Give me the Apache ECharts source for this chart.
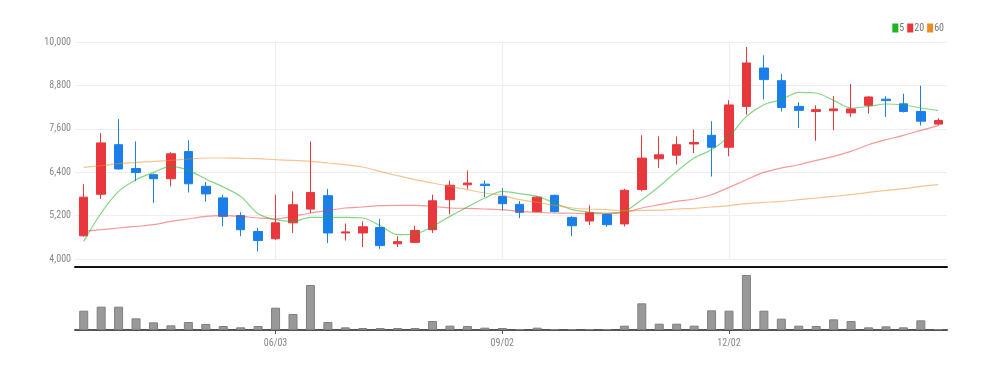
<!DOCTYPE html>
<html><head><meta charset="utf-8">
<script src="https://cdn.jsdelivr.net/npm/echarts@6/dist/echarts.min.js"></script>
<style>html,body{margin:0;padding:0;background:#fff}#c{width:995px;height:371px}</style>
</head><body><div id="c"></div>
<script>
const categories = ['03/18','03/25','04/01','04/08','04/15','04/22','04/29','05/06','05/13','05/20','05/27','06/03','06/10','06/17','06/24','07/01','07/08','07/15','07/22','07/29','08/05','08/12','08/19','08/26','09/02','09/09','09/16','09/23','09/30','10/07','10/14','10/21','10/28','11/04','11/11','11/18','11/25','12/02','12/09','12/16','12/23','12/30','01/06','01/13','01/20','01/27','02/03','02/10','02/17','02/24'];
const tickLabels = ['06/03','09/02','12/02'];
const openV  = [4640,5790,7160,6500,6330,6220,6970,6010,5690,5200,4760,4560,5000,5380,5750,4720,4720,4870,4420,4460,4810,5640,6050,6070,5730,5510,5310,5760,5150,5050,5230,4970,5920,6770,6870,7180,7420,7090,8220,9280,8930,8220,8080,8100,8040,8250,8420,8290,8080,7730];
const closeV = [5710,7210,6490,6390,6220,6910,6080,5800,5180,4810,4510,5000,5500,5840,4720,4750,4890,4370,4480,4790,5610,6040,6100,6030,5530,5290,5710,5310,4920,5280,4950,5900,6790,6880,7160,7220,7090,8260,9420,8960,8190,8110,8130,8150,8150,8480,8380,8080,7810,7830];
const lowV   = [4620,5660,6470,6150,5550,6010,5840,5590,4900,4630,4210,4530,4720,5270,4440,4510,4330,4280,4330,4440,4720,5230,5940,5710,5340,5130,5300,5290,4630,4940,4890,4900,5870,6520,6610,6930,6280,6840,7990,8410,8080,7620,7270,7560,7930,8020,7930,8050,7690,7690];
const highV  = [6070,7480,7870,7250,6360,6950,7280,6130,5780,5290,4860,5780,5870,7250,5940,4980,5040,5110,4630,4920,5780,6170,6450,6170,5960,5600,5740,5780,5180,5480,5250,5940,7420,7390,7390,7580,7810,8390,9860,9630,9120,8330,8250,8500,8840,8500,8500,8570,8790,7890];
const ma5  = [4487,5272,5869,6193,6394,6560,6450,6212,5991,5731,5253,5087,5040,5150,5150,5150,5134,4921,4672,4691,4901,5178,5438,5687,5869,5806,5731,5548,5363,5300,5272,5316,5640,6007,6422,6793,7022,7390,7943,8267,8405,8607,8590,8385,8175,8219,8286,8258,8175,8109];
const ma20 = [4763,4810,4857,4901,4948,5040,5106,5178,5197,5178,5134,5106,5178,5272,5344,5410,5438,5474,5482,5482,5455,5410,5400,5382,5363,5316,5289,5272,5265,5253,5253,5289,5410,5501,5593,5659,5778,5980,6193,6394,6516,6607,6726,6837,6975,7160,7299,7418,7556,7686];
const ma60 = [6533,6580,6635,6671,6699,6726,6765,6793,6793,6782,6773,6746,6726,6699,6654,6607,6544,6422,6303,6193,6101,6007,5916,5825,5760,5640,5565,5482,5410,5382,5363,5335,5344,5350,5382,5400,5438,5474,5529,5565,5593,5640,5687,5731,5778,5842,5897,5944,6007,6054];
const volume = [58000,70000,70000,35000,23000,14000,24000,18000,12000,8000,12000,67000,48000,135000,24000,8000,6000,6000,6000,6000,27000,13000,12000,7000,6000,3000,7000,3000,3000,3000,3000,13000,80000,19000,19000,13000,59000,58000,165000,58000,34000,13000,12000,32000,27000,8000,11000,8000,29000,3000];
const yTicks = {min:4000, max:10000, interval:1200};

const FONT = "'Liberation Sans Narrow','Roboto Condensed','Noto Sans',sans-serif";
const RED = '#e8383d', BLUE = '#1a7fe8';
const labelFn = (i) => tickLabels.indexOf(categories[i]) >= 0;

const candle = categories.map((c, i) => [openV[i], closeV[i], lowV[i], highV[i]]);

const chart = echarts.init(document.getElementById('c'), null, {renderer:'canvas'});
chart.setOption({
  animation:false,
  backgroundColor:'#fff',
  textStyle:{fontFamily:FONT},
  legend:{
    right:46, top:18, itemWidth:6, itemHeight:9, itemGap:3, icon:'rect',
    textStyle:{color:'#777', fontSize:10, fontFamily:FONT, padding:[0,0,0,-4]},
    data:['5','20','60']
  },
  grid:[
    {left:75, right:48, top:42, height:217},
    {left:75, right:48, top:275, bottom:41}
  ],
  xAxis:[
    {type:'category', gridIndex:0, data:categories, boundaryGap:true,
     offset:8,
     axisLine:{show:true, lineStyle:{color:'#111', width:2}},
     axisTick:{show:false}, axisLabel:{show:false},
     splitLine:{show:false}},
    {type:'category', gridIndex:1, data:categories, boundaryGap:true,
     axisLine:{show:true, lineStyle:{color:'#555', width:2}},
     axisTick:{show:true, interval:labelFn, alignWithLabel:true, length:4, lineStyle:{color:'#555'}},
     axisLabel:{show:true, interval:labelFn, color:'#888', fontSize:10, fontFamily:FONT, margin:8},
     splitLine:{show:false}}
  ],
  yAxis:[
    {type:'value', gridIndex:0, min:yTicks.min, max:yTicks.max, interval:yTicks.interval,
     axisLine:{show:false}, axisTick:{show:false},
     axisLabel:{color:'#888', fontSize:10, fontFamily:FONT, margin:4,
       formatter:v => v.toLocaleString('en-US')},
     splitLine:{show:true, lineStyle:{color:'#eceef2', width:1}}},
    {type:'value', gridIndex:1, min:0, max:'dataMax', show:false, splitLine:{show:false}}
  ],
  series:[
    {name:'candle', type:'candlestick', xAxisIndex:0, yAxisIndex:0, data:candle, barWidth:9,
     itemStyle:{color:RED, color0:BLUE, borderColor:RED, borderColor0:BLUE, borderWidth:1},
     markLine:{silent:true, symbol:'none', animation:false, z:0,
       label:{show:false},
       lineStyle:{color:'#eceef2', width:1, type:'solid'},
       emphasis:{disabled:true},
       data:tickLabels.map(t => ({xAxis:t}))}},
    {name:'5', type:'line', xAxisIndex:0, yAxisIndex:0, data:ma5, showSymbol:false, smooth:0.3,
     color:'#22b322', lineStyle:{width:1.2, opacity:0.55}},
    {name:'20', type:'line', xAxisIndex:0, yAxisIndex:0, data:ma20, showSymbol:false, smooth:0.3,
     color:'#ee3535', lineStyle:{width:1.2, opacity:0.5}},
    {name:'60', type:'line', xAxisIndex:0, yAxisIndex:0, data:ma60, showSymbol:false, smooth:0.3,
     color:'#ee8c22', lineStyle:{width:1.2, opacity:0.5}},
    {name:'vol', type:'bar', xAxisIndex:1, yAxisIndex:1, data:volume, barWidth:9,
     itemStyle:{color:'#999', borderColor:'#808080', borderWidth:1}}
  ]
});
</script></body></html>
